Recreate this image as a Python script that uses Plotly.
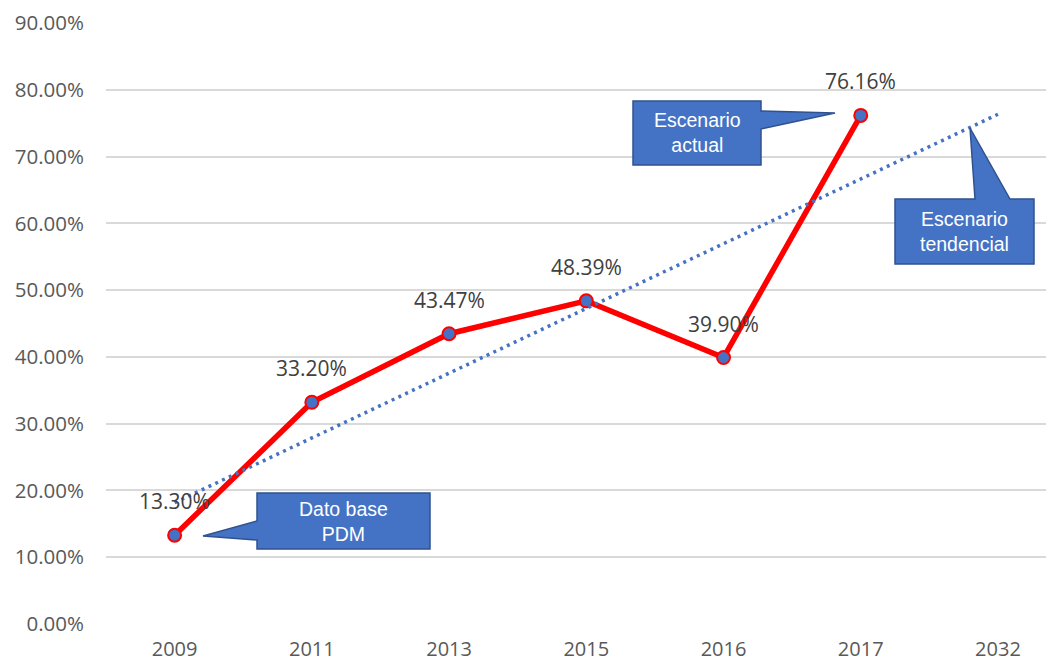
import numpy as np
import plotly.graph_objects as go

# ---- data ----
years = ["2009", "2011", "2013", "2015", "2016", "2017", "2032"]
actual_years = ["2009", "2011", "2013", "2015", "2016", "2017"]
actual_values = [0.1330, 0.3320, 0.4347, 0.4839, 0.3990, 0.7616]
y_ticks = [0.0, 0.1, 0.2, 0.3, 0.4, 0.5, 0.6, 0.7, 0.8, 0.9]

callout_texts = ["Dato base<br>PDM", "Escenario<br>actual", "Escenario<br>tendencial"]

# linear trendline (as Excel computes it), forecast to the last category
xs = np.arange(1, len(actual_values) + 1)
slope, intercept = np.polyfit(xs, actual_values, 1)
trend_x = [years[0], years[-1]]
trend_y = [intercept + slope * 1, intercept + slope * len(years)]

# ---- layout geometry (pixels) ----
W, H = 1054, 662
ML, MR, MT, MB = 106, 8, 23, 38
PW, PH = W - ML - MR, H - MT - MB

def px(x):
    return (x - ML) / PW

def py(y):
    return (H - MB - y) / PH

RED = "#FF0000"
BLUE = "#4472C4"
DARKBLUE = "#2F528F"

fig = go.Figure()

fig.add_trace(go.Scatter(
    x=actual_years, y=actual_values, mode="lines+markers",
    line=dict(color=RED, width=5.5),
    marker=dict(size=13, color=BLUE, line=dict(color=RED, width=2)),
    hoverinfo="skip",
))

fig.add_trace(go.Scatter(
    x=trend_x, y=trend_y, mode="lines",
    line=dict(color=BLUE, width=3.5, dash="3px,4.5px"),
    hoverinfo="skip",
))

# data labels (category index positions)
for yr, yv in zip(actual_years, actual_values):
    fig.add_annotation(
        x=years.index(yr), y=yv, text=f"{yv:.2%}", showarrow=False,
        yshift=34, xanchor="center", yanchor="middle",
        font=dict(family="Open Sans", size=21, color="#404040"),
    )

# callouts: polygon paths in pixel space -> paper
def poly_path(points):
    pts = [(px(a), py(b)) for a, b in points]
    return "M " + " L ".join(f"{a:.5f},{b:.5f}" for a, b in pts) + " Z"

callouts = [
    ([(257, 493), (430, 493), (430, 549), (257, 549), (257, 540), (203, 536), (257, 521)], (343, 521)),
    ([(633, 101), (761, 101), (761, 111), (835, 113), (761, 129), (761, 165), (633, 165)], (697, 133)),
    ([(895, 199), (975, 199), (970, 128), (1010, 199), (1034, 199), (1034, 264), (895, 264)], (964, 231)),
]

for (pts, center), txt in zip(callouts, callout_texts):
    fig.add_shape(
        type="path", xref="paper", yref="paper", path=poly_path(pts),
        fillcolor=BLUE, line=dict(color=DARKBLUE, width=1.5), layer="above",
    )
    fig.add_annotation(
        xref="paper", yref="paper", x=px(center[0]), y=py(center[1]),
        text=txt, showarrow=False, xanchor="center", yanchor="middle",
        font=dict(family="Liberation Sans", size=19.5, color="white"),
    )

fig.update_layout(
    width=W, height=H,
    margin=dict(l=ML, r=MR, t=MT, b=MB, autoexpand=False),
    plot_bgcolor="white", paper_bgcolor="white",
    showlegend=False,
    xaxis=dict(
        type="category", categoryorder="array", categoryarray=years,
        range=[-0.5, 6.35], showgrid=False, zeroline=False, showline=False,
        ticks="", ticklabelstandoff=11, automargin=False,
        tickfont=dict(family="Open Sans", size=20, color="#595959"),
    ),
    yaxis=dict(
        range=[0, 0.9], tickvals=y_ticks, tickformat=".2%",
        showgrid=True, gridcolor="#D9D9D9", gridwidth=1.5,
        zeroline=False, showline=False, ticks="", ticklabelstandoff=21,
        automargin=False,
        tickfont=dict(family="Open Sans", size=20.5, color="#595959"),
    ),
)

fig.write_html(
    "out.html",
    config={"displayModeBar": False},
    post_script="document.body.style.margin='0';document.body.style.overflow='hidden';",
)
